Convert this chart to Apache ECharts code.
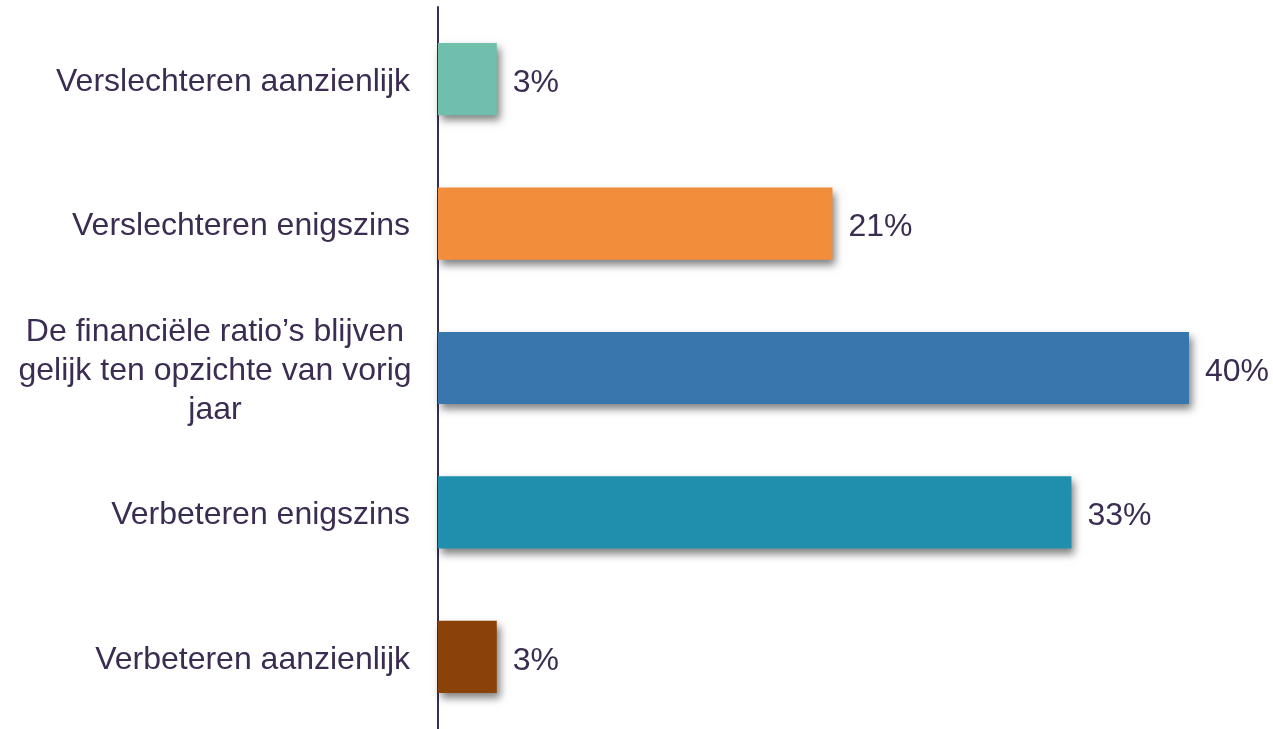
<!DOCTYPE html>
<html>
<head>
<meta charset="utf-8">
<script src="https://cdn.jsdelivr.net/npm/echarts@6/dist/echarts.min.js"></script>
<style>
  html, body { margin: 0; padding: 0; background: #fff; }
  #chart { width: 1273px; height: 729px; }
</style>
</head>
<body>
<div id="chart"></div>
<script>
// answers, top to bottom
const categories = [
  "Verslechteren aanzienlijk",
  "Verslechteren enigszins",
  "De financiële ratio’s blijven\ngelijk ten opzichte van vorig\njaar",
  "Verbeteren enigszins",
  "Verbeteren aanzienlijk"
];
const values = [3.1, 20.8, 39.6, 33.4, 3.1];
const barColors = ["#70bfad", "#f28e3b", "#3a76ae", "#1f8fad", "#8b4208"];

const textColor = "#3b2c52";
const font = "Liberation Sans, Arial, sans-serif";

const chart = echarts.init(document.getElementById("chart"));

chart.setOption({
  animation: false,
  grid: { left: 438, top: 7, width: 751, height: 725, containLabel: false },
  xAxis: {
    type: "value",
    min: 0,
    max: 39.6,
    show: false
  },
  yAxis: {
    type: "category",
    inverse: true,
    data: categories,
    axisLine: { show: true, lineStyle: { color: textColor, width: 2 } },
    axisTick: { show: false },
    axisLabel: {
      margin: 28,
      padding: [6, 0, 0, 0],
      color: textColor,
      fontFamily: font,
      fontSize: 32,
      lineHeight: 39,
      formatter: (v) => v.indexOf("\n") >= 0 ? "{m|" + v + "}" : v,
      rich: {
        m: {
          width: 390,
          align: "center",
          color: textColor,
          fontFamily: font,
          fontSize: 32,
          lineHeight: 39
        }
      }
    }
  },
  series: [{
    type: "bar",
    data: values.map((v, i) => ({ value: v, itemStyle: { color: barColors[i] } })),
    barCategoryGap: "50%",
    itemStyle: {
      shadowColor: "rgba(0,0,0,0.5)",
      shadowBlur: 8,
      shadowOffsetX: 3,
      shadowOffsetY: 5
    },
    label: {
      show: true,
      position: "right",
      distance: 16,
      offset: [0, 4],
      color: textColor,
      fontFamily: font,
      fontSize: 32,
      formatter: (p) => Math.round(p.value) + "%"
    }
  }]
});
</script>
</body>
</html>
